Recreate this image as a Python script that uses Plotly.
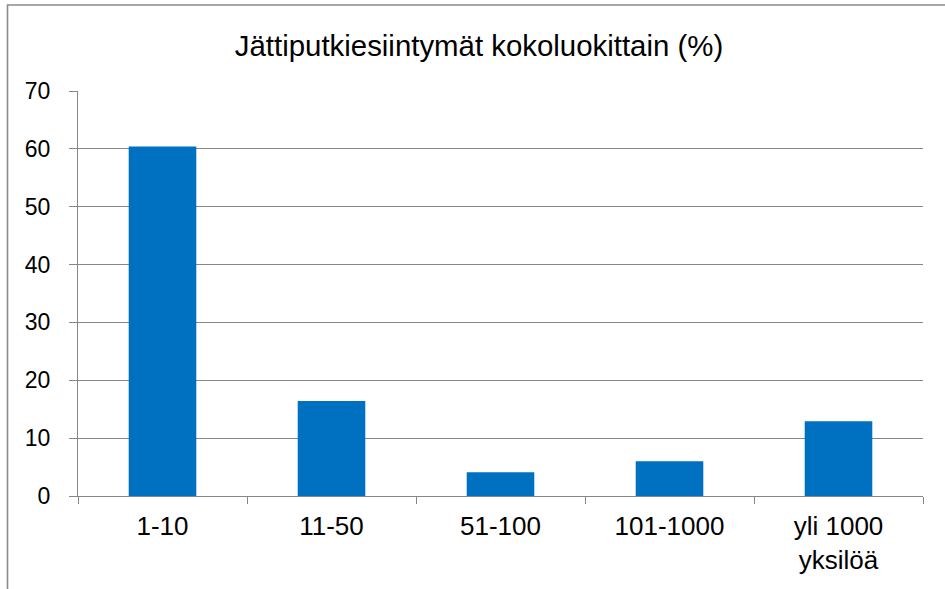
import plotly.graph_objects as go

categories = ["1-10", "11-50", "51-100", "101-1000", "yli 1000<br>yksilöä"]
values = [60.4, 16.4, 4.1, 6.0, 12.9]
y_ticks = [0, 10, 20, 30, 40, 50, 60, 70]

W, H = 945, 589
ml, mr, mt, mb = 78, 22, 91, 93
pw, ph = W - ml - mr, H - mt - mb

grid = "#868686"
font_family = "Arial, Liberation Sans, sans-serif"

fig = go.Figure(go.Bar(
    x=categories, y=values,
    marker=dict(color="#0070C0", line=dict(width=0)),
    width=0.4,
))

# chart-area frame (top and left edges visible; rest cropped)
fx = (7.5 - ml) / pw
fy = (H - mb - 5) / ph
fig.add_shape(type="path", xref="paper", yref="paper",
              path=f"M {fx},-0.3 L {fx},{fy} L 1.03,{fy}",
              line=dict(color="#8a8a8a", width=1.6), layer="above")

fig.update_layout(
    width=W, height=H,
    margin=dict(l=ml, r=mr, t=mt, b=mb, autoexpand=False),
    paper_bgcolor="white", plot_bgcolor="white",
    font=dict(family=font_family, color="black", size=24),
    showlegend=False,
    title=dict(text="Jättiputkiesiintymät kokoluokittain (%)",
               font=dict(size=29.4, color="black", family=font_family),
               x=479 / W, xanchor="center", xref="container",
               y=1 - 46 / H, yanchor="middle", yref="container", automargin=False),
    bargap=0.6,
)
fig.update_xaxes(
    type="category", showline=True, linecolor=grid, linewidth=1.3,
    ticks="outside", ticklen=7, tickcolor=grid, tickwidth=1.3, tickson="boundaries",
    showgrid=False, tickfont=dict(size=26), ticklabelstandoff=7, automargin=False,
)
fig.update_yaxes(
    range=[0, 70], tickvals=y_ticks, showline=True, linecolor=grid, linewidth=1.3,
    ticks="outside", ticklen=8, tickcolor=grid, tickwidth=1.3,
    showgrid=True, gridcolor=grid, gridwidth=1.3, zeroline=False,
    tickfont=dict(size=23), ticklabelstandoff=14, automargin=False,
)

fig.write_html("out.html", config={"displayModeBar": False},
               post_script="document.body.style.margin='0';document.body.style.overflow='hidden';")
